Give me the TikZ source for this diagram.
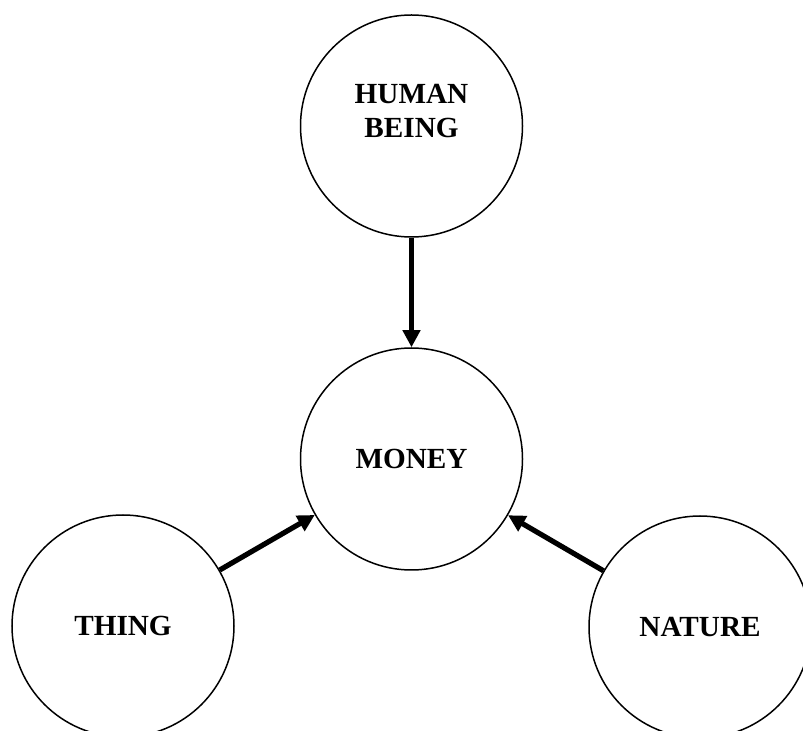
\documentclass[tikz,border=0pt]{standalone}
\usepackage{fontspec}
\setmainfont{Liberation Serif}
\usetikzlibrary{arrows.meta}

\begin{document}
\begin{tikzpicture}[x=0.5pt, y=-0.5pt,
  ball/.style={shape=circle, draw, line width=0.75pt, inner sep=0pt, minimum size=111pt,
    align=center, font=\bfseries\fontsize{14.6}{17}\selectfont},
  push/.style={line width=2.6pt, -{Triangle[width=8.5pt,length=8.5pt]}}]
\useasboundingbox (0,0) rectangle (803,731);

\node[ball] (human) at (411.5,126) {HUMAN\\BEING\\[-7pt]\strut};
\node[ball] (money) at (411.5,459) {MONEY};
\node[ball] (thing) at (123,626) {THING};
\node[ball] (nature) at (700,627) {NATURE};

%\node at (411,300) {};
\draw[push] (human) -- (money);
\draw[push] (thing) -- (money);
\draw[push] (nature) -- (money);
\end{tikzpicture}
\end{document}
